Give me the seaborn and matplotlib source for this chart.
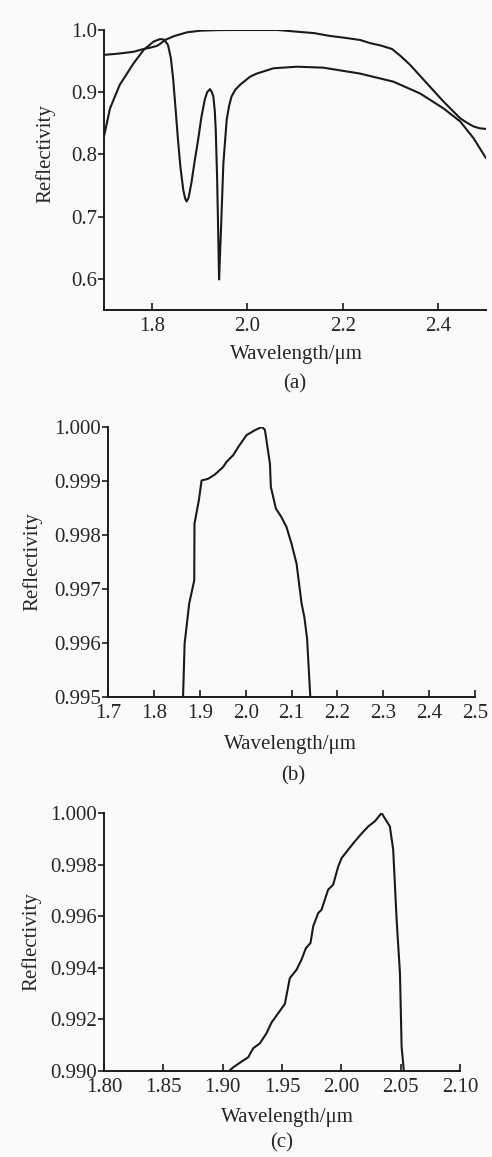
import numpy as np
import pandas as pd
import matplotlib
matplotlib.use("Agg")
import matplotlib.pyplot as plt
import seaborn as sns

# ---------- Data ----------
# (a) broad high-reflectivity curve
a1_wl = [1.700, 1.730, 1.762, 1.783, 1.797, 1.811, 1.818, 1.828, 1.846, 1.874,
         1.902, 1.937, 1.964, 2.000, 2.064, 2.104, 2.140, 2.173, 2.204, 2.236,
         2.257, 2.280, 2.303, 2.320, 2.341, 2.376, 2.411, 2.446, 2.462, 2.474,
         2.487, 2.500]
a1_r  = [0.960, 0.962, 0.965, 0.9695, 0.9716, 0.9745, 0.978, 0.984, 0.990, 0.9963,
         0.9989, 0.9998, 1.000, 1.000, 1.000, 0.9973, 0.9950, 0.9905, 0.9875, 0.984,
         0.979, 0.975, 0.9695, 0.959, 0.944, 0.9145, 0.885, 0.858, 0.850, 0.845,
         0.842, 0.841]

# (a) curve with two absorption dips
a2_wl = [1.700, 1.7126, 1.733, 1.762, 1.783, 1.804, 1.818, 1.826, 1.834, 1.840,
         1.845, 1.850, 1.855, 1.860, 1.866, 1.870, 1.873, 1.877, 1.883, 1.890,
         1.897, 1.904, 1.911, 1.916, 1.922, 1.926, 1.929, 1.932, 1.934, 1.937,
         1.939, 1.941, 1.943, 1.945, 1.950, 1.957, 1.962, 1.967, 1.975, 1.985,
         2.006, 2.020, 2.055, 2.104, 2.159, 2.236, 2.306, 2.362, 2.411, 2.446,
         2.474, 2.500]
a2_r  = [0.829, 0.874, 0.912, 0.9465, 0.968, 0.9815, 0.9855, 0.9845, 0.976, 0.955,
         0.920, 0.872, 0.823, 0.780, 0.743, 0.729, 0.7244, 0.730, 0.754, 0.790,
         0.823, 0.860, 0.888, 0.900, 0.905, 0.900, 0.893, 0.870, 0.8395, 0.759,
         0.680, 0.599, 0.640, 0.679, 0.786, 0.856, 0.878, 0.893, 0.904, 0.912,
         0.925, 0.930, 0.9385, 0.941, 0.9395, 0.930, 0.917, 0.898, 0.874, 0.853,
         0.826, 0.794]

# (b) zoom on the top of the band
b_wl = [1.8636, 1.867, 1.877, 1.888, 1.8885, 1.898, 1.904, 1.918, 1.933, 1.951,
        1.958, 1.973, 1.984, 2.002, 2.020, 2.035, 2.042, 2.053, 2.055, 2.066,
        2.078, 2.089, 2.100, 2.111, 2.122, 2.128, 2.134, 2.141]
b_r  = [0.99500, 0.99599, 0.99673, 0.99716, 0.99821, 0.99864, 0.99901, 0.99904, 0.99912, 0.99926,
        0.99935, 0.99948, 0.99963, 0.99985, 0.99994, 1.00000, 0.99995, 0.99932, 0.99889, 0.99849,
        0.99833, 0.99815, 0.99784, 0.99747, 0.99673, 0.99648, 0.99608, 0.99500]

# (c) narrower band
c_wl = [1.9054, 1.9088, 1.9158, 1.9215, 1.9257, 1.9313, 1.9369, 1.9412, 1.9468, 1.9524,
        1.9566, 1.9622, 1.9664, 1.9701, 1.9740, 1.9763, 1.9805, 1.9833, 1.9889, 1.9931,
        1.9974, 2.0002, 2.0058, 2.0114, 2.0170, 2.0227, 2.0283, 2.0339, 2.0409, 2.0437,
        2.0466, 2.0494, 2.0508, 2.0527]
c_r  = [0.99000, 0.99014, 0.99036, 0.99053, 0.99088, 0.99107, 0.99146, 0.99188, 0.99224, 0.99260,
        0.99360, 0.99392, 0.99431, 0.99476, 0.99496, 0.99561, 0.99612, 0.99625, 0.99703, 0.99722,
        0.99793, 0.99825, 0.99858, 0.99890, 0.99920, 0.99948, 0.99968, 1.00000, 0.99948, 0.99858,
        0.99586, 0.99379, 0.99094, 0.99000]

a_xticks = [1.8, 2.0, 2.2, 2.4]
a_yticks = [0.6, 0.7, 0.8, 0.9, 1.0]
b_xticks = [1.7, 1.8, 1.9, 2.0, 2.1, 2.2, 2.3, 2.4, 2.5]
b_yticks = [0.995, 0.996, 0.997, 0.998, 0.999, 1.000]
c_xticks = [1.80, 1.85, 1.90, 1.95, 2.00, 2.05, 2.10]
c_yticks = [0.990, 0.992, 0.994, 0.996, 0.998, 1.000]

# ---------- Style ----------
sns.set_style("ticks")
plt.rcParams["font.family"] = ["Liberation Serif", "DejaVu Serif"]
BG = "#fafafa"
FS = 15
LW = 1.5

fig = plt.figure(figsize=(4.92, 11.57), dpi=100, facecolor=BG)
W, H = 492, 1157

def make_axes(left, right, top, bottom):
    return fig.add_axes([left / W, 1 - bottom / H, (right - left) / W, (bottom - top) / H])

ax_a = make_axes(104, 486, 30, 310)
ax_b = make_axes(108, 475, 427, 697)
ax_c = make_axes(104, 460, 813, 1071)

def draw(ax, wl, r):
    df = pd.DataFrame({"wl": wl, "r": r})
    sns.lineplot(data=df, x="wl", y="r", ax=ax, color="#1a1a1a", lw=LW,
                 estimator=None, sort=False)

draw(ax_a, a1_wl, a1_r)
draw(ax_a, a2_wl, a2_r)
draw(ax_b, b_wl, b_r)
draw(ax_c, c_wl, c_r)

setup = [
    (ax_a, (1.7, 2.5), (0.55, 1.0), a_xticks, a_yticks, "{:.1f}", "{:.1f}",
     (-0.128, 0.56), (0.505, -0.125)),
    (ax_b, (1.7, 2.5), (0.995, 1.0), b_xticks, b_yticks, "{:.1f}", "{:.3f}",
     (-0.18, 0.5), (0.496, -0.142)),
    (ax_c, (1.8, 2.1), (0.990, 1.0), c_xticks, c_yticks, "{:.2f}", "{:.3f}",
     (-0.175, 0.5), (0.514, -0.144)),
]
for ax, xl, yl, xt, yt, xf, yf, ylc, xlc in setup:
    ax.set_facecolor(BG)
    ax.set_xlim(*xl)
    ax.set_ylim(*yl)
    ax.set_xticks(xt)
    ax.set_xticklabels([xf.format(v) for v in xt])
    ax.set_yticks(yt)
    ax.set_yticklabels([yf.format(v) for v in yt])
    ax.tick_params(axis="x", direction="in", length=5, width=1.2, pad=5,
                   labelsize=FS, color="#1a1a1a")
    ax.tick_params(axis="y", direction="out", length=4, width=1.2, pad=1,
                   labelsize=FS, color="#1a1a1a")
    for s in ["top", "right"]:
        ax.spines[s].set_visible(False)
    for s in ["left", "bottom"]:
        ax.spines[s].set_linewidth(1.4)
        ax.spines[s].set_color("#1a1a1a")
    ax.set_xlabel("Wavelength/μm", fontsize=FS)
    ax.set_ylabel("Reflectivity", fontsize=FS)
    ax.yaxis.set_label_coords(*ylc)
    ax.xaxis.set_label_coords(*xlc)

fig.text(295 / W, 1 - 384 / H, "(a)", ha="center", va="center", fontsize=FS)
fig.text(293 / W, 1 - 776 / H, "(b)", ha="center", va="center", fontsize=FS)
fig.text(282 / W, 1 - 1143 / H, "(c)", ha="center", va="center", fontsize=FS)

fig.savefig("out.png", dpi=100, facecolor=BG)
